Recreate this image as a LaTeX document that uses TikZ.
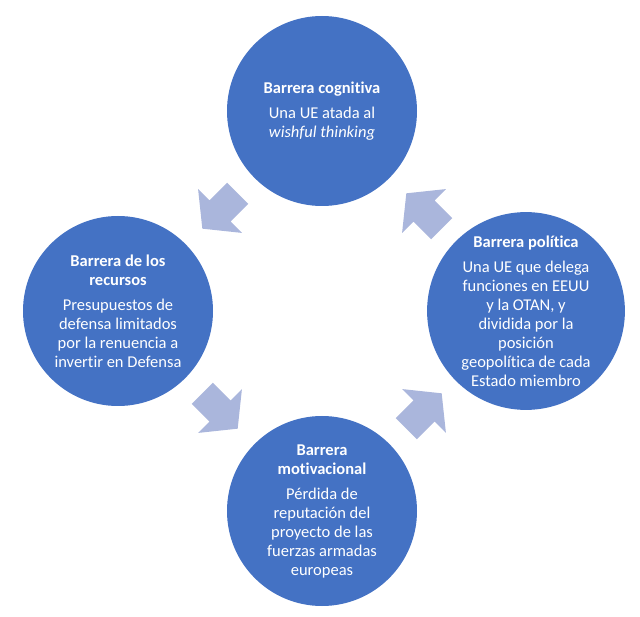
\documentclass[tikz,border=0pt]{standalone}
\usepackage{fontspec}
\setmainfont{Carlito}[Ligatures=NoCommon]
\usetikzlibrary{positioning,calc}

\definecolor{azul}{HTML}{4472C4}
\definecolor{azulclaro}{RGB}{170,182,220}

\begin{document}
\begin{tikzpicture}[x=1pt, y=-1pt, node distance=200pt and 204pt, on grid,
                    barrera/.style={circle, fill=azul, minimum size=190pt, inner sep=0pt,
                                    align=center, text=white, font=\fontsize{16.5}{19}\selectfont},
                    flecha/.style={fill=azulclaro}]

\useasboundingbox (0,0) rectangle (640,617);

\node[barrera] (cog) at (322,111) {\textbf{Barrera cognitiva}\\[6pt]
    Una UE atada al\\ \textit{wishful thinking}};
\node[barrera] (rec) [below left=of cog] {\textbf{Barrera de los}\\ \textbf{recursos}\\[6pt]
    Presupuestos de\\ defensa limitados\\ por la renuencia a\\ invertir en Defensa};
\node[barrera] (pol) [below right=of cog] {\textbf{Barrera política}\\[6pt]
    Una UE que delega\\ funciones en EEUU\\ y la OTAN, y\\ dividida por la\\ posición\\
    geopolítica de cada\\ Estado miembro};
\node[barrera] (mot) [below=400pt of cog] {\textbf{Barrera}\\ \textbf{motivacional}\\[6pt]
    Pérdida de\\ reputación del\\ proyecto de las\\ fuerzas armadas\\ europeas};

% flechas del ciclo
\foreach \a/\b/\ang in {cog/rec/225, rec/mot/315, mot/pol/45, pol/cog/135}{
  \begin{scope}[shift={($(\a)!0.5!(\b)$)}, rotate=\ang]
    \fill[flecha] (-25,-15) -- (0,-15) -- (0,-31) -- (25,0) -- (0,31) -- (0,15) -- (-25,15) -- cycle;
  \end{scope}
}
\end{tikzpicture}
\end{document}
